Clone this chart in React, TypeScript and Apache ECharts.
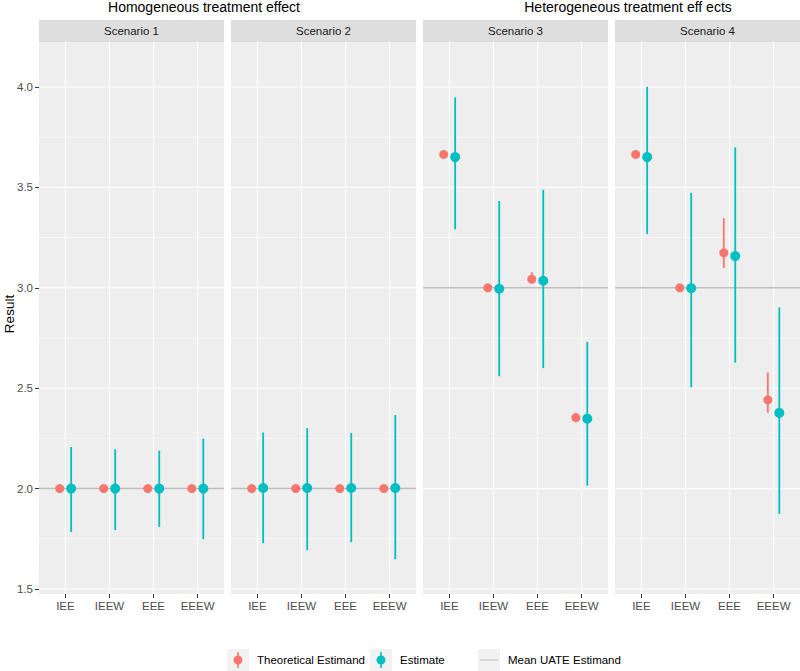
import React, { useEffect, useRef } from 'react';
import * as echarts from 'echarts';

// ---------- data ----------
const categories = ['IEE', 'IEEW', 'EEE', 'EEEW'];
const scenarios = ['Scenario 1', 'Scenario 2', 'Scenario 3', 'Scenario 4'];
const groupTitles = ['Homogeneous treatment effect', 'Heterogeneous treatment eff ects'];
const yTickValues = [1.5, 2.0, 2.5, 3.0, 3.5, 4.0];
const yMinorValues = [1.75, 2.25, 2.75, 3.25, 3.75];

const theoretical = [
  [2.0, 2.0, 2.0, 2.0],
  [2.0, 2.0, 2.0, 2.0],
  [3.664, 3.0, 3.043, 2.353],
  [3.664, 3.0, 3.174, 2.442],
];
const theoreticalLow = [
  [null, null, null, null],
  [null, null, null, null],
  [null, null, 3.02, 2.335],
  [null, null, 3.098, 2.378],
];
const theoreticalHigh = [
  [null, null, null, null],
  [null, null, null, null],
  [null, null, 3.078, 2.378],
  [null, null, 3.347, 2.579],
];
const estimate = [
  [2.0, 2.0, 2.0, 2.0],
  [2.003, 2.003, 2.003, 2.003],
  [3.651, 2.995, 3.035, 2.348],
  [3.651, 2.998, 3.158, 2.377],
];
const estimateLow = [
  [1.784, 1.793, 1.809, 1.748],
  [1.728, 1.693, 1.733, 1.648],
  [3.291, 2.56, 2.6, 2.014],
  [3.267, 2.504, 2.627, 1.874],
];
const estimateHigh = [
  [2.207, 2.196, 2.189, 2.249],
  [2.279, 2.301, 2.277, 2.366],
  [3.948, 3.432, 3.488, 2.731],
  [4.001, 3.473, 3.699, 2.902],
];
const meanUATE = [2.0, 2.0, 3.0, 3.0];

// ---------- layout / style ----------
const FONT = '"Liberation Sans", Arial, Helvetica, sans-serif';
const RED = '#F8766D';
const CYAN = '#00BFC4';
const MEANC = '#BEBEBE';
const PANEL_BG = '#EEEEEE';
const STRIP_BG = '#DEDEDE';
const PANEL_LEFT = [39, 231, 423, 615];
const PANEL_W = 185;
const PANEL_TOP = 42;
const PANEL_H = 552;
const X_MIN = 0.4;
const X_MAX = 4.6;
const Y_MIN = 1.475;
const Y_MAX = 4.224;
const DODGE = 0.13;

const PR_ICON =
  'path://M0 0h0.01v0.01z M21.99 21.99h0.01v0.01z M6.5 11a4.5 4.5 0 1 0 9 0a4.5 4.5 0 1 0 -9 0z M10.2 3h1.6v3.6h-1.6z M10.2 15.4h1.6v3.6h-1.6z';
const LINE_ICON = 'path://M0 0h0.01v0.01z M21.99 21.99h0.01v0.01z M2 10.4h18v1.2h-18z';

function buildOption() {
  const grid: any[] = [];
  const xAxis: any[] = [];
  const yAxis: any[] = [];
  const series: any[] = [];
  const graphic: any[] = [];

  for (let i = 0; i < 4; i++) {
    grid.push({
      left: PANEL_LEFT[i],
      top: PANEL_TOP,
      width: PANEL_W,
      height: PANEL_H,
      show: true,
      backgroundColor: PANEL_BG,
      borderWidth: 0,
      containLabel: false,
    });
    xAxis.push({
      type: 'value',
      gridIndex: i,
      min: X_MIN,
      max: X_MAX,
      axisLine: { show: false },
      splitLine: { show: false },
      axisTick: {
        show: true,
        customValues: [1, 2, 3, 4],
        length: 4,
        lineStyle: { color: '#333333', width: 1 },
      },
      axisLabel: {
        show: true,
        customValues: [1, 2, 3, 4],
        formatter: (v: number) => categories[Math.round(v) - 1] ?? '',
        color: '#4D4D4D',
        fontSize: 11.5,
        fontFamily: FONT,
        margin: 6,
      },
    });
    yAxis.push({
      type: 'value',
      gridIndex: i,
      min: Y_MIN,
      max: Y_MAX,
      axisLine: { show: false },
      splitLine: { show: false },
      axisTick: {
        show: i === 0,
        customValues: yTickValues,
        length: 4,
        lineStyle: { color: '#333333', width: 1 },
      },
      axisLabel: {
        show: i === 0,
        customValues: yTickValues,
        formatter: (v: number) => v.toFixed(1),
        color: '#4D4D4D',
        fontSize: 11.5,
        fontFamily: FONT,
        margin: 6,
      },
    });

    // horizontal grid lines
    series.push({
      type: 'custom',
      xAxisIndex: i,
      yAxisIndex: i,
      silent: true,
      z: 1,
      data: [...yTickValues.map((v) => [v, 1]), ...yMinorValues.map((v) => [v, 0])],
      renderItem: (params: any, api: any) => {
        const cs = params.coordSys;
        const y = api.coord([1, api.value(0)])[1];
        return {
          type: 'line',
          shape: { x1: cs.x, y1: y, x2: cs.x + cs.width, y2: y },
          style: { stroke: '#FFFFFF', lineWidth: api.value(1) ? 1.1 : 0.55 },
        };
      },
    });
    // vertical grid lines
    series.push({
      type: 'custom',
      xAxisIndex: i,
      yAxisIndex: i,
      silent: true,
      z: 1,
      data: categories.map((_, j) => [j + 1, 2]),
      renderItem: (params: any, api: any) => {
        const cs = params.coordSys;
        const x = api.coord([api.value(0), 2])[0];
        return {
          type: 'line',
          shape: { x1: x, y1: cs.y, x2: x, y2: cs.y + cs.height },
          style: { stroke: '#FFFFFF', lineWidth: 1.1 },
        };
      },
    });
    // mean UATE line
    series.push({
      type: 'custom',
      name: 'Mean UATE Estimand',
      xAxisIndex: i,
      yAxisIndex: i,
      silent: true,
      z: 2,
      itemStyle: { color: MEANC },
      data: [[1, meanUATE[i]]],
      renderItem: (params: any, api: any) => {
        const cs = params.coordSys;
        const y = api.coord([1, api.value(1)])[1];
        return {
          type: 'line',
          shape: { x1: cs.x, y1: y, x2: cs.x + cs.width, y2: y },
          style: { stroke: MEANC, lineWidth: 1.5 },
        };
      },
    });
    // error bars
    const barRender = (color: string) => (params: any, api: any) => {
      const p1 = api.coord([api.value(0), api.value(1)]);
      const p2 = api.coord([api.value(0), api.value(2)]);
      return {
        type: 'line',
        shape: { x1: p1[0], y1: p1[1], x2: p2[0], y2: p2[1] },
        style: { stroke: color, lineWidth: 1.8 },
      };
    };
    const thBars: any[] = [];
    categories.forEach((_, j) => {
      const lo = theoreticalLow[i][j];
      const hi = theoreticalHigh[i][j];
      if (lo != null && hi != null) thBars.push([j + 1 - DODGE, lo, hi]);
    });
    series.push({
      type: 'custom',
      name: 'Theoretical Estimand',
      xAxisIndex: i,
      yAxisIndex: i,
      z: 3,
      itemStyle: { color: RED },
      encode: { x: 0, y: [1, 2] },
      data: thBars,
      renderItem: barRender(RED),
    });
    series.push({
      type: 'custom',
      name: 'Estimate',
      xAxisIndex: i,
      yAxisIndex: i,
      z: 3,
      itemStyle: { color: CYAN },
      encode: { x: 0, y: [1, 2] },
      data: categories.map((_, j) => [j + 1 + DODGE, estimateLow[i][j], estimateHigh[i][j]]),
      renderItem: barRender(CYAN),
    });
    // points
    series.push({
      type: 'scatter',
      name: 'Theoretical Estimand',
      xAxisIndex: i,
      yAxisIndex: i,
      z: 4,
      symbol: 'circle',
      symbolSize: 9,
      itemStyle: { color: RED, opacity: 1 },
      data: categories.map((_, j) => [j + 1 - DODGE, theoretical[i][j]]),
    });
    series.push({
      type: 'scatter',
      name: 'Estimate',
      xAxisIndex: i,
      yAxisIndex: i,
      z: 4,
      symbol: 'circle',
      symbolSize: 10,
      itemStyle: { color: CYAN, opacity: 1 },
      data: categories.map((_, j) => [j + 1 + DODGE, estimate[i][j]]),
    });

    // strip
    graphic.push({
      type: 'rect',
      shape: { x: PANEL_LEFT[i], y: 20, width: PANEL_W, height: 22 },
      style: { fill: STRIP_BG },
      silent: true,
    });
    graphic.push({
      type: 'text',
      x: PANEL_LEFT[i] + PANEL_W / 2,
      y: 31,
      style: {
        text: scenarios[i],
        fill: '#1A1A1A',
        fontSize: 11.5,
        fontFamily: FONT,
        align: 'center',
        verticalAlign: 'middle',
        textAlign: 'center',
        textVerticalAlign: 'middle',
      },
      silent: true,
    });
  }

  // group titles
  const titleX = [204, 628];
  groupTitles.forEach((t, k) => {
    graphic.push({
      type: 'text',
      x: titleX[k],
      y: 7,
      style: {
        text: t,
        fill: '#000000',
        fontSize: 14,
        fontFamily: FONT,
        align: 'center',
        verticalAlign: 'middle',
        textAlign: 'center',
        textVerticalAlign: 'middle',
      },
      silent: true,
    });
  });
  // y axis title
  graphic.push({
    type: 'text',
    x: 9,
    y: 314,
    rotation: Math.PI / 2,
    style: {
      text: 'Result',
      fill: '#000000',
      fontSize: 13.5,
      fontFamily: FONT,
      align: 'center',
      verticalAlign: 'middle',
      textAlign: 'center',
      textVerticalAlign: 'middle',
    },
    silent: true,
  });
  // legend key boxes
  const keyLeft = [227, 370, 478];
  keyLeft.forEach((x) => {
    graphic.push({
      type: 'rect',
      z: -1,
      shape: { x, y: 649, width: 22, height: 22 },
      style: { fill: '#F2F2F2' },
      silent: true,
    });
  });

  const legendNames = ['Theoretical Estimand', 'Estimate', 'Mean UATE Estimand'];
  const legendIcons = [PR_ICON, PR_ICON, LINE_ICON];
  const legend = legendNames.map((name, k) => ({
    show: true,
    left: keyLeft[k],
    top: 649,
    padding: 0,
    itemWidth: 22,
    itemHeight: 22,
    selectedMode: false,
    z: 5,
    data: [{ name, icon: legendIcons[k] }],
    textStyle: { fontSize: 11.5, fontFamily: FONT, color: '#000000', padding: [0, 0, 0, 3] },
  }));

  return {
    animation: false,
    backgroundColor: '#FFFFFF',
    textStyle: { fontFamily: FONT },
    grid,
    xAxis,
    yAxis,
    series,
    legend,
    graphic,
  };
}

export default function App() {
  const ref = useRef<HTMLDivElement>(null);
  useEffect(() => {
    if (!ref.current) return;
    const chart = echarts.init(ref.current, undefined, { renderer: 'svg' });
    chart.setOption(buildOption() as any);
    return () => chart.dispose();
  }, []);
  return (
    <div
      ref={ref}
      style={{ position: 'absolute', left: 0, top: 0, width: 800, height: 671 }}
    />
  );
}
